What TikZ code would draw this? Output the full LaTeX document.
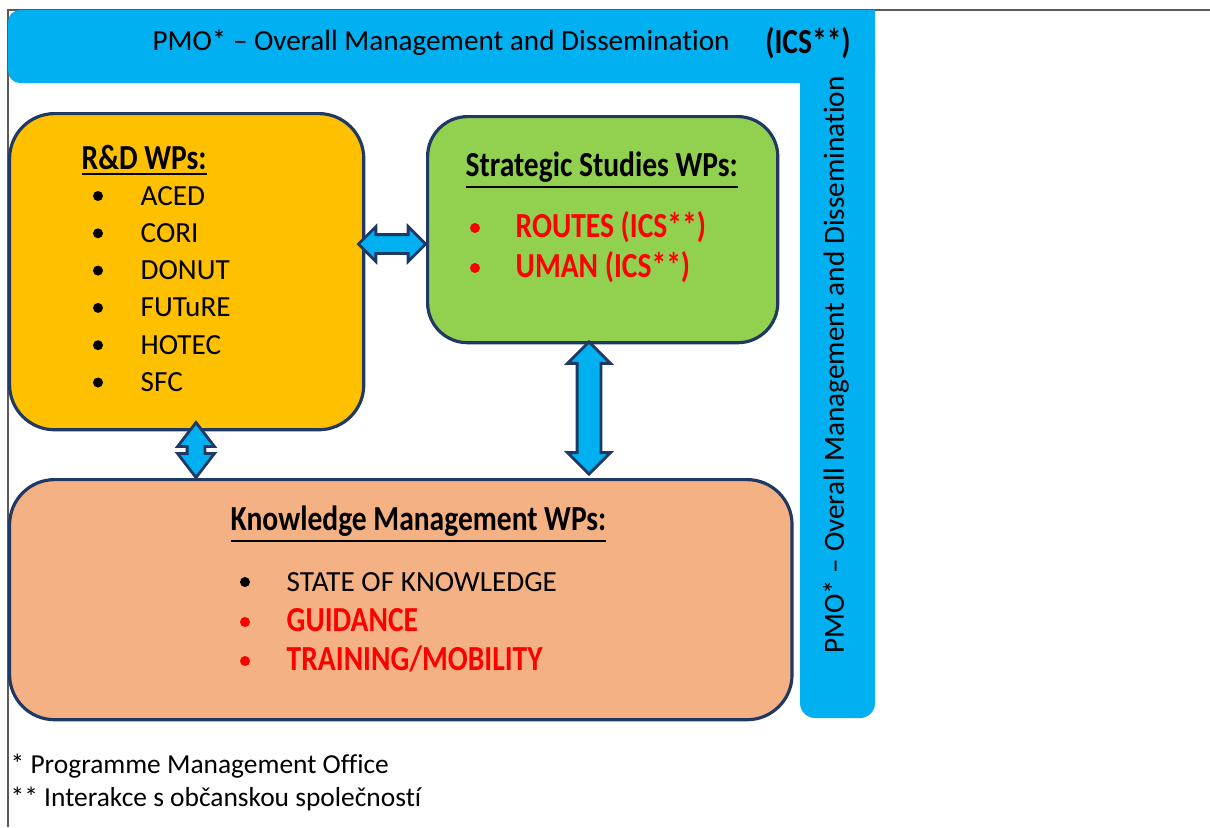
\documentclass[tikz,border=0pt]{standalone}
\usepackage{fontspec}
\setmainfont{Carlito}[Ligatures=NoCommon, BoldFeatures={FakeStretch=0.84}]
\usetikzlibrary{positioning, shapes.arrows}

\definecolor{pmoblue}{HTML}{00B0F0}
\definecolor{rdfill}{HTML}{FFC000}
\definecolor{ssfill}{HTML}{92D050}
\definecolor{kmfill}{HTML}{F4B183}
\definecolor{edgeblue}{HTML}{1F3864}
\definecolor{wpred}{HTML}{FF0000}
\definecolor{framegray}{HTML}{595959}

\tikzset{
  wpbox/.style={draw=edgeblue, line width=0.9pt, rounded corners=0.45cm, anchor=north west, inner sep=0},
  dblarrow/.style={double arrow, draw=edgeblue, line width=0.8pt, fill=pmoblue, inner sep=0, text depth=0pt},
  hd/.style={font=\bfseries, anchor=base west, inner sep=0},
  item/.style={anchor=base west, inner sep=0},
  bul/.style={circle, fill=black, inner sep=0, minimum size=0.1cm},
}

\begin{document}
\begin{tikzpicture}[x=0.01cm, y=-0.01cm, font=\fontsize{8.3}{10}\selectfont]
\useasboundingbox (0,0) rectangle (1210,827);

% page frame
\draw[framegray, line width=0.5pt] (1210,10) -- (8,10) -- (8,827);

% PMO band, top and right side
\fill[pmoblue, rounded corners=0.12cm] (8,10) rectangle (875,83);
\fill[pmoblue] (840,10) rectangle (875,83);
\fill[pmoblue, rounded corners=0.15cm] (800,40) rectangle (875,718);
\node[inner sep=0] (pmotop) at (441,43) {PMO* – Overall Management and Dissemination};
\node[inner sep=0, font=\bfseries] (pmoics) at (808,43) {(ICS**)};
\node[inner sep=0, rotate=90] (pmoside) at (836,365) {PMO* – Overall Management and Dissemination};

% the three WP groups
\node[wpbox, fill=rdfill, minimum width=3.54cm, minimum height=3.16cm] (rdbox) at (8,112) {};
\node[wpbox, fill=ssfill, minimum width=3.50cm, minimum height=2.26cm, rounded corners=0.4cm] (ssbox) at (426,115) {};
\node[wpbox, fill=kmfill, minimum width=7.82cm, minimum height=2.40cm] (kmbox) at (8,478) {};

% R&D WPs
\node[hd] (rdhead) at (81,169) {\underline{R\&D WPs:}};
\foreach \wp [count=\i] in {ACED,CORI,DONUT,FUTuRE,HOTEC,SFC}
{
\node[bul] (rdb\i) at (98,{196+37.3*(\i-1)}) {};
\node[item] (rd\i) at (140,{205+37.3*(\i-1)}) {\wp};
}

% strategic studies WPs
\node[hd] (sshead) at (465,176) {\underline{Strategic Studies WPs:}};
\node[bul, fill=wpred] (ssb1) at (475,228) {};
\node[hd, text=wpred] (ss1) at (515,237) {ROUTES (ICS**)};
\node[bul, fill=wpred] (ssb2) at (475,268) {};
\node[hd, text=wpred] (ss2) at (515,277) {UMAN (ICS**)};

% knowledge management WPs
\node[hd] (kmhead) at (230,530) {\underline{Knowledge Management WPs:}};
\node[bul] (kmb1) at (245,582) {};
\node[item] (km1) at (286,591) {STATE OF KNOWLEDGE};
\node[bul, fill=wpred] (kmb2) at (245,622) {};
\node[hd, text=wpred] (km2) at (286,631) {GUIDANCE};
\node[bul, fill=wpred] (kmb3) at (245,661) {};
\node[hd, text=wpred] (km3) at (286,670) {TRAINING/MOBILITY};

% links between the groups
\node[dblarrow, minimum height=0.67cm, text height=0.16cm, double arrow head extend=0.08cm] (rdss) at (392,244) {};
\node[dblarrow, rotate=90, minimum height=0.55cm, text height=0.15cm, double arrow head extend=0.095cm, double arrow tip angle=75] (rdkm) at (196,450) {};
\node[dblarrow, rotate=90, minimum height=1.32cm, text height=0.21cm, double arrow head extend=0.095cm] (sskm) at (589,408) {};

% footnotes
\node[item, font=\fontsize{7.8}{9}\selectfont] (fn1) at (10,773) {* Programme Management Office};
\node[item, font=\fontsize{7.8}{9}\selectfont] (fn2) at (10,806) {** Interakce s občanskou společností};

\end{tikzpicture}
\end{document}
